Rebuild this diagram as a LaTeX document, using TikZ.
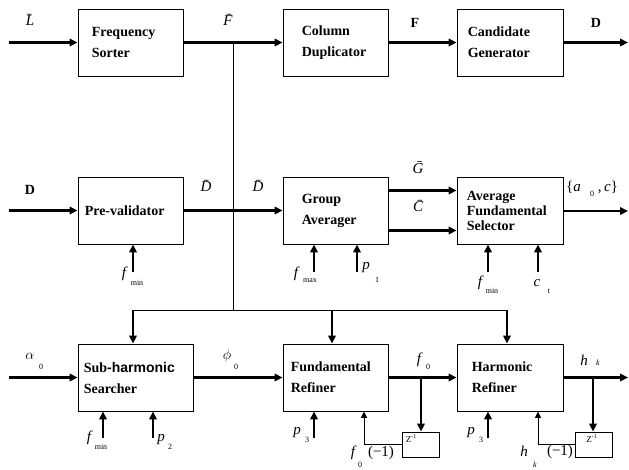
\documentclass[tikz,border=0pt]{standalone}
\usepackage{fontspec}
\setmainfont{Liberation Serif}
\setsansfont{Liberation Sans}
\usetikzlibrary{arrows.meta}
\begin{document}
\begin{tikzpicture}[x=1pt,y=-1pt,
  box/.style={draw,line width=0.9pt,inner sep=0pt,minimum height=67pt,minimum width=105pt},
  btxt/.style={anchor=west,font=\fontsize{14}{21}\selectfont\bfseries,align=left,inner sep=0pt},
  arr/.style={line width=2.1pt,-{Triangle[length=8pt,width=7.5pt]}},
  thinarr/.style={line width=1pt,-{Triangle[length=6.5pt,width=6pt]}},
  bus/.style={line width=1pt},
  lab/.style={font=\fontsize{15}{15}\selectfont\itshape,inner sep=0pt},
  bl/.style={font=\fontsize{14}{14}\selectfont\bfseries,inner sep=0pt},
  subl/.style={font=\fontsize{8}{8}\selectfont,inner sep=0pt},
  zbox/.style={draw,line width=0.9pt,minimum width=37pt,minimum height=25pt,inner sep=0pt}]
\useasboundingbox (0,0) rectangle (629,469);

% ---- boxes ----
\node[box] (fs) at (130.5,42.5) {};
\node[box] (cd) at (335.5,42.5) {};
\node[box,minimum width=106pt] (cg) at (510,42.5) {};
\node[box] (pv) at (130.5,210.5) {};
\node[box] (ga) at (335.5,210.5) {};
\node[box,minimum width=106pt] (afs) at (510,210.5) {};
\node[box,minimum width=115pt] (sh) at (135.5,377.5) {};
\node[box] (fr) at (335.5,377.5) {};
\node[box,minimum width=106pt] (hr) at (510,377.5) {};
\node[zbox] (z1) at (420.5,444.5) {};
\node[zbox] (z2) at (594,444.5) {};

% ---- box texts ----
\node[btxt] (fst) at ([xshift=14pt]fs.west) {Frequency\\Sorter};
\node[btxt] (cdt) at ([xshift=19pt]cd.west) {Column\\Duplicator};
\node[btxt] (cgt) at ([xshift=11pt]cg.west) {Candidate\\Generator};
\node[btxt] (pvt) at ([xshift=7pt]pv.west) {Pre-validator};
\node[btxt] (gat) at ([xshift=19pt]ga.west) {Group\\Averager};
\node[btxt,font=\fontsize{14}{15}\selectfont\bfseries] (afst) at ([xshift=10pt]afs.west) {Average\\Fundamental\\Selector};
\node[btxt] (sht) at ([xshift=6pt]sh.west) {Sub{\sffamily\bfseries -harmonic}\\Searcher};
\node[btxt] (frt) at ([xshift=8pt]fr.west) {Fundamental\\Refiner};
\node[btxt] (hrt) at ([xshift=15pt]hr.west) {Harmonic\\Refiner};
\node[anchor=north west,inner sep=0pt,font=\fontsize{9}{9}\selectfont] (z1t) at ([xshift=4pt,yshift=-3pt]z1.north west) {Z\textsuperscript{-1}};
\node[anchor=north west,inner sep=0pt,font=\fontsize{9}{9}\selectfont] (z2t) at ([xshift=11pt,yshift=-3pt]z2.north west) {Z\textsuperscript{-1}};

% ---- coordinates ----
\coordinate (inL) at (9,42.5);
\coordinate (outD) at (628,42.5);
\coordinate (busTop) at (233,42.5);
\coordinate (busBot) at (233,310);
\coordinate (b1) at (133,310);
\coordinate (b2) at (332,310);
\coordinate (b3) at (507,310);
\coordinate (inD) at (9,210.5);
\coordinate (outA) at (628,211);
\coordinate (inA) at (9,377.5);
\coordinate (outH) at (628,377.5);
\coordinate (fminA) at (133,272);
\coordinate (fmaxA) at (314,272);
\coordinate (p1A) at (357,272);
\coordinate (fminB) at (488,272);
\coordinate (ctA) at (538,272);
\coordinate (fminC) at (103,438);
\coordinate (p2A) at (153,438);
\coordinate (p3A) at (314,438);
\coordinate (p3B) at (488,438);
\coordinate (br1) at (421,377.5);
\coordinate (br2) at (593,377.5);
\coordinate (fb1) at (364,444.5);
\coordinate (fb2) at (538,444.5);

% ---- row 1 ----
\draw[arr] (inL) -- (fs.west);
\draw[arr] (fs.east) -- (cd.west);
\draw[arr] (cd.east) -- (cg.west);
\draw[arr] (cg.east) -- (outD);
% ---- bus ----
\draw[bus] (busTop) -- (busBot);
\draw[bus] (b1) -- (b3);
\draw[arr] (b1) -- (b1 |- sh.north);
\draw[arr] (b2) -- (b2 |- fr.north);
\draw[arr] (b3) -- (b3 |- hr.north);
% ---- row 2 ----
\draw[arr] (inD) -- (pv.west);
\draw[arr] (pv.east) -- (ga.west);
\draw[arr] ([yshift=20pt]ga.east) -- ([yshift=20pt]afs.west);
\draw[arr] ([yshift=-20pt]ga.east) -- ([yshift=-20pt]afs.west);
\draw[arr] (afs.east |- outA) -- (outA);
\draw[arr] (fminA) -- (fminA |- pv.south);
\draw[arr] (fmaxA) -- (fmaxA |- ga.south);
\draw[arr] (p1A) -- (p1A |- ga.south);
\draw[arr] (fminB) -- (fminB |- afs.south);
\draw[arr] (ctA) -- (ctA |- afs.south);
% ---- row 3 ----
\draw[arr] (inA) -- (sh.west);
\draw[arr,line width=2.6pt] (sh.east) -- (fr.west);
\draw[arr] (fr.east) -- (hr.west);
\draw[arr] (hr.east) -- (outH);
\draw[arr] (br1) -- (z1.north -| br1);
\draw[arr] (br2) -- (z2.north -| br2);
\draw[thinarr] (z1.west) -- (fb1) -- (fb1 |- fr.south);
\draw[thinarr] (z2.west) -- (fb2) -- (fb2 |- hr.south);
\draw[arr] (fminC) -- (fminC |- sh.south);
\draw[arr] (p2A) -- (p2A |- sh.south);
\draw[arr] (p3A) -- (p3A |- fr.south);
\draw[arr] (p3B) -- (p3B |- hr.south);

% ---- labels ----
\node[lab] (lL) at (30,20) {\={L}};
\node[lab] (lF) at (228,20) {\={F}};
\node[bl] (lFb) at (415,23) {F};
\node[bl] (lDb) at (596,23) {D};
\node[bl] (lD2) at (30,190) {D};
\node[lab] (lDb1) at (206,186) {\={D}};
\node[lab] (lDb2) at (258,186) {\={D}};
\node[lab] (lG) at (418,168) {\={G}};
\node[lab] (lC) at (418,206) {\={C}};
\node[lab,font=\fontsize{15}{15}\selectfont,anchor=west] (lac) at (566,187) {\{\textit{a}\hspace{17pt},\,\textit{c}\}};
\node[subl] (lac0) at (592,194) {0};

\node[lab] (f1) at (124,274) {f};
\node[subl] (f1s) at (137,283) {min};
\node[lab] (f2) at (296,274) {f};
\node[subl] (f2s) at (310,281) {max};
\node[lab] (p1) at (366,268) {p};
\node[subl] (p1s) at (377,280) {1};
\node[lab] (f3) at (480,283) {f};
\node[subl] (f3s) at (492,291) {min};
\node[lab] (c1) at (537,283) {c};
\node[subl] (c1s) at (549,291) {t};

\node[lab] (al) at (30,356) {$\alpha$};
\node[subl] (als) at (41,367) {0};
\node[lab] (ph) at (227,356) {$\phi$};
\node[subl] (phs) at (236,367) {0};
\node[lab] (f0) at (419,360) {f};
\node[subl] (f0s) at (428,367) {0};
\node[lab] (hk) at (584,360) {h};
\node[subl,font=\fontsize{8}{8}\selectfont\itshape] (hks) at (598,363) {k};

\node[lab] (f4) at (89,438) {f};
\node[subl] (f4s) at (101,447) {min};
\node[lab] (p2) at (161,440) {p};
\node[subl] (p2s) at (170,447) {2};
\node[lab] (p3) at (297,433) {p};
\node[subl] (p3s) at (307,440) {3};
\node[lab] (p4) at (471,433) {p};
\node[subl] (p4s) at (481,440) {3};

\node[lab] (f5) at (353,453) {f};
\node[subl] (f5s) at (360,465) {0};
\node[lab,font=\fontsize{15}{15}\selectfont] (f5m) at (381,453) {(−1)};
\node[lab] (h5) at (524,451) {h};
\node[subl,font=\fontsize{8}{8}\selectfont\itshape] (h5s) at (535,465) {k};
\node[lab,font=\fontsize{15}{15}\selectfont] (h5m) at (560,452) {(−1)};
\end{tikzpicture}
\end{document}
